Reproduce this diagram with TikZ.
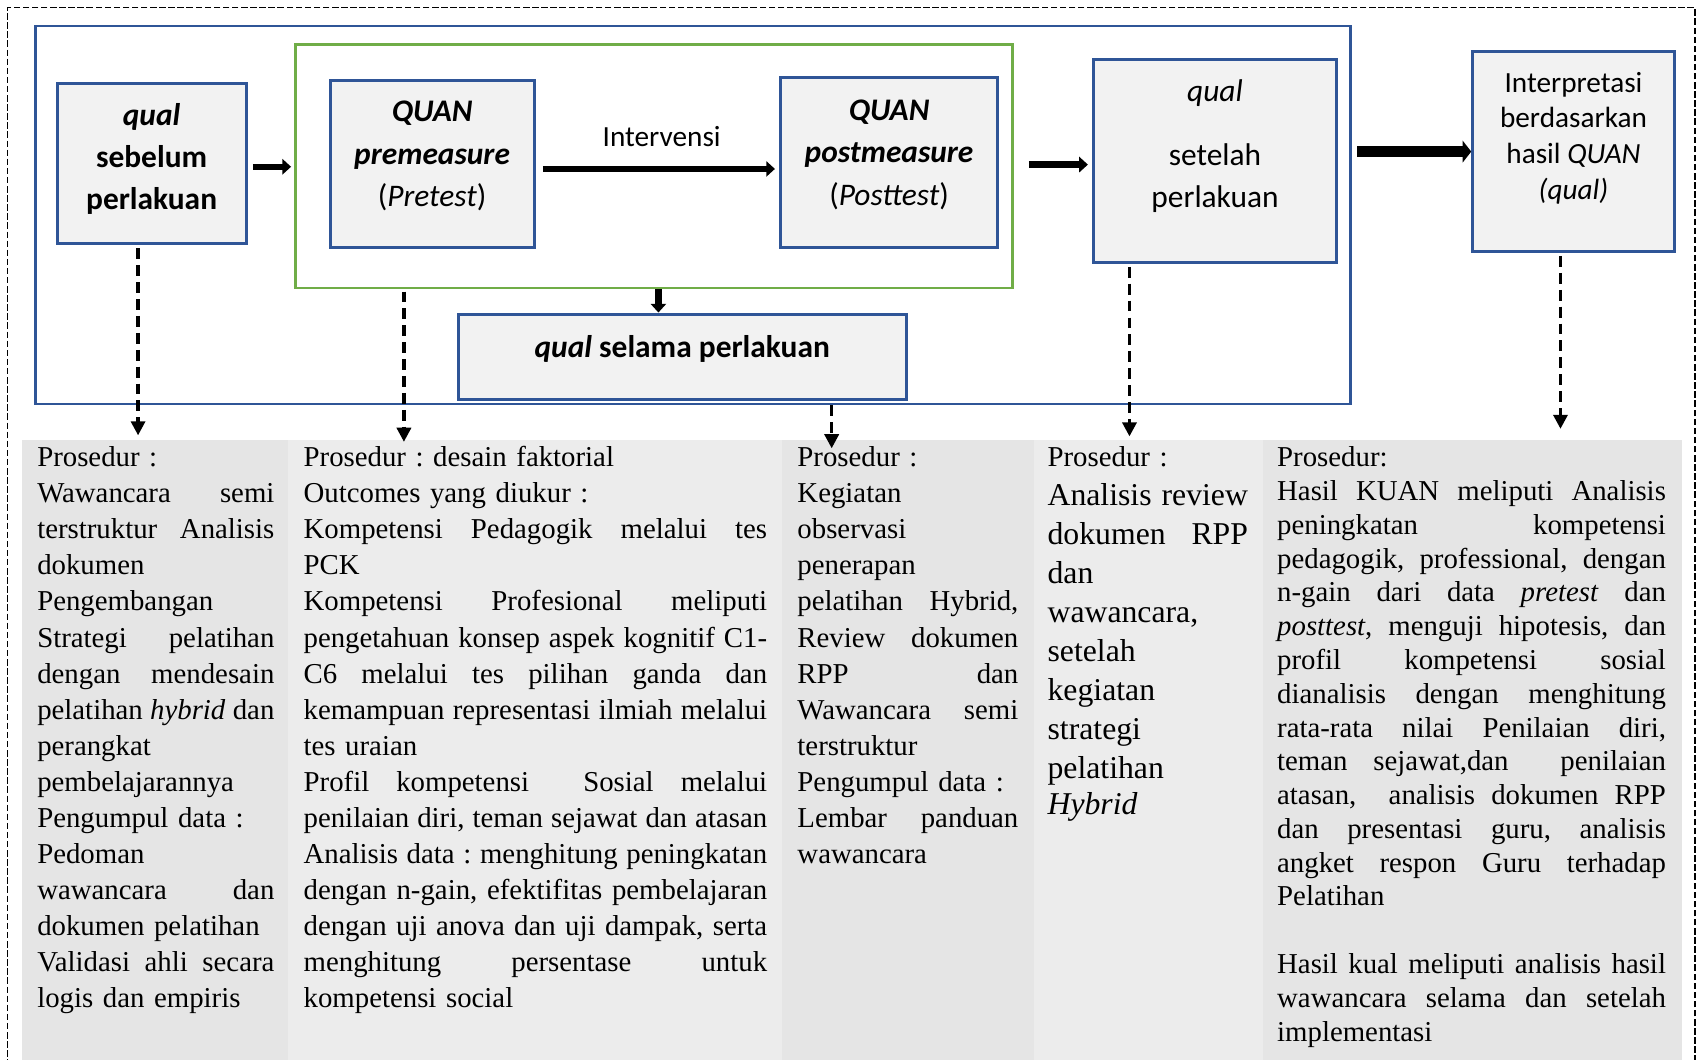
\documentclass[tikz,border=0pt]{standalone}
\usepackage{fontspec}
\setmainfont{Liberation Serif}
\newfontfamily\carl{Carlito}
\usetikzlibrary{arrows.meta,calc}
\definecolor{bblue}{HTML}{2F5597}
\definecolor{ggreen}{HTML}{70AD47}
\definecolor{boxfill}{HTML}{F2F2F2}
\definecolor{pdark}{HTML}{E5E5E5}
\definecolor{plight}{HTML}{ECECEC}
\newdimen\colw
\newcommand{\J}[1]{\leavevmode\hbox to\colw{\spaceskip=0.25em plus 1fil minus 0.08em\relax #1}}
\frenchspacing
\tikzset{
  bx/.style 2 args={draw=bblue, line width=1.4pt, fill=boxfill, inner sep=0pt,
    minimum width=#1*0.5pt, minimum height=#2*0.5pt},
  panel/.style 2 args={fill=#1, draw=none, inner sep=0pt, anchor=north west,
    minimum width=#2*0.5pt, minimum height=580*0.5pt},
  toptxt/.style={font=\carl\fontsize{14.5}{19.5}\selectfont, align=center, inner sep=0pt},
  coltxt/.style={font=\fontsize{13.3}{16.65}\selectfont\frenchspacing, align=left, anchor=base west,
    inner sep=0pt, text width=#1*0.5pt,
    execute at begin node={\colw=#1pt \divide\colw by 2 }},
  sarr/.style={line width=3pt, -{Triangle[length=4pt,width=7pt]}},
  tarr/.style={line width=5pt, -{Triangle[length=4pt,width=10pt]}},
  darr/.style={line width=1.5pt, dash pattern=on 5pt off 2.8pt,
    -{Triangle[length=6.5pt,width=6.5pt]}}
}
\begin{document}
\begin{tikzpicture}[x=0.5pt,y=-0.5pt]
\useasboundingbox (0,0) rectangle (1568,978);
% bottom panels
\node[panel={pdark}{246}] (p1) at (20,406) {};
\node[panel={plight}{456}] (p2) at (266,406) {};
\node[panel={pdark}{232}] (p3) at (722,406) {};
\node[panel={plight}{212}] (p4) at (954,406) {};
\node[panel={pdark}{387}] (p5) at (1166,406) {};
% outer frame
\node[draw, line width=0.8pt, dash pattern=on 3pt off 1.2pt, inner sep=0pt,
  minimum width=1558*0.5pt, minimum height=978*0.5pt] (frame) at (786,496) {};
% containers
\node[draw=bblue, line width=1.3pt, inner sep=0pt,
  minimum width=1214*0.5pt, minimum height=349*0.5pt] (big) at (640,198.5) {};
\node[draw=ggreen, line width=1.2pt, inner sep=0pt,
  minimum width=662*0.5pt, minimum height=225*0.5pt] (green) at (604,153.5) {};
% boxes
\node[bx={175}{148}] (seb) at (140.5,151) {};
\node[bx={189}{155}] (pre) at (399.5,151.5) {};
\node[bx={200}{157}] (post) at (821,150.5) {};
\node[bx={224}{187}] (set) at (1122,148.5) {};
\node[bx={186}{184}] (interp) at (1453,140) {};
\node[bx={414}{79}] (sel) at (630,329.5) {};
% box texts
\node[toptxt] (tseb) at (140,147) {\textbf{\textit{qual}}\\\textbf{sebelum}\\\textbf{perlakuan}};
\node[toptxt] (tpre) at (399,144) {\textbf{\textit{QUAN}}\\\textbf{\textit{premeasure}}\\(\textit{Pretest})};
\node[toptxt] (tpost) at (821,143) {\textbf{\textit{QUAN}}\\\textbf{\textit{postmeasure}}\\(\textit{Posttest})};
\node[toptxt] (tset) at (1122,135) {\textit{qual}\\[10pt]setelah\\perlakuan};
\node[toptxt, font=\carl\fontsize{13.5}{16.5}\selectfont] (tint) at (1453,127.5)
  {Interpretasi\\berdasarkan\\hasil \textit{QUAN}\\\textit{(qual)}};
\node[toptxt] (tsel) at (630,322) {\textbf{\textit{qual} selama perlakuan}};
\node[toptxt, font=\carl\fontsize{13.5}{16}\selectfont] (tiv) at (611,126) {Intervensi};
% solid arrows
\draw[sarr, shorten <=2pt, shorten >=1.5pt] ([yshift=-1.5pt]seb.east) -- ([yshift=-1.5pt]seb.east -| green.west);
\draw[sarr, shorten <=3pt, shorten >=2pt] ([yshift=-2.25pt]pre.east) -- ([yshift=-2.25pt]pre.east -| post.west);
\draw[sarr, shorten <=7pt, shorten >=2pt] ([yshift=0.75pt]green.east) -- ([yshift=0.75pt]green.east -| set.west);
\draw[tarr, shorten <=2.5pt] (interp.west -| big.east) -- (interp.west);
\draw[sarr] ([xshift=-11pt]sel.north |- green.south) -- ([xshift=-11pt]sel.north);
% dashed arrows
\draw[darr, shorten <=1.5pt, shorten >=2pt] ([xshift=-6.5pt]seb.south) -- ([xshift=-6.5pt]seb.south |- p1.north);
\draw[darr, shorten <=1pt, shorten >=-1pt] ([xshift=-13.25pt]pre.south |- green.south) -- ([xshift=-13.25pt]pre.south |- p2.north);
\draw[darr, shorten >=-4pt] ([xshift=69pt]sel.south |- big.south) -- ([xshift=69pt]sel.south |- p3.north);
\draw[darr, shorten <=1.5pt, shorten >=1.5pt] ([xshift=-39.5pt]set.south) -- ([xshift=-39.5pt]set.south |- p4.north);
\draw[darr, shorten <=1.5pt, shorten >=5pt] ([xshift=-6pt]interp.south) -- ([xshift=-6pt]interp.south |- p5.north);
% column texts
\node[coltxt=219] (c1) at (34,431) {Prosedur :\\
\J{Wawancara semi}\\
\J{terstruktur Analisis}\\
dokumen\\
Pengembangan\\
\J{Strategi pelatihan}\\
\J{dengan mendesain}\\
\J{pelatihan \textit{hybrid} dan}\\
perangkat\\
pembelajarannya\\
Pengumpul data :\\
Pedoman\\
\J{wawancara dan}\\
dokumen pelatihan\\
\J{Validasi ahli secara}\\
logis dan empiris};
\node[coltxt=428] (c2) at (280,431) {Prosedur : desain faktorial\\
Outcomes yang diukur :\\
\J{Kompetensi Pedagogik melalui tes}\\
PCK\\
\J{Kompetensi Profesional meliputi}\\
\J{pengetahuan konsep aspek kognitif C1-}\\
\J{C6 melalui tes pilihan ganda dan}\\
\J{kemampuan representasi ilmiah melalui}\\
tes uraian\\
\J{Profil kompetensi\ \ Sosial melalui}\\
\J{penilaian diri, teman sejawat dan atasan}\\
\J{Analisis data : menghitung peningkatan}\\
\J{dengan n-gain, efektifitas pembelajaran}\\
\J{dengan uji anova dan uji dampak, serta}\\
\J{menghitung persentase untuk}\\
kompetensi social};
\node[coltxt=204] (c3) at (736,431) {Prosedur :\\
Kegiatan\\
observasi\\
penerapan\\
\J{pelatihan Hybrid,}\\
\J{Review dokumen}\\
\J{RPP dan}\\
\J{Wawancara semi}\\
terstruktur\\
Pengumpul data :\\
\J{Lembar panduan}\\
wawancara};
\node[coltxt=185] (c4) at (967,431) {Prosedur :\\
\fontsize{14.65}{18}\selectfont\J{Analisis review}\\
\J{dokumen RPP}\\
dan\\
wawancara,\\
setelah\\
kegiatan\\
strategi\\
pelatihan\\
\textit{Hybrid}};
\node[coltxt=359, font=\fontsize{13.3}{15.6}\selectfont\frenchspacing] (c5) at (1179,431) {Prosedur:\\
\J{Hasil KUAN meliputi Analisis}\\
\J{peningkatan kompetensi}\\
\J{pedagogik, professional, dengan}\\
\J{n-gain dari data \textit{pretest} dan}\\
\J{\textit{posttest}, menguji hipotesis, dan}\\
\J{profil kompetensi sosial}\\
\J{dianalisis dengan menghitung}\\
\J{rata-rata nilai Penilaian diri,}\\
\J{teman sejawat,dan\ \ penilaian}\\
\J{atasan,\ \ analisis dokumen RPP}\\
\J{dan presentasi guru, analisis}\\
\J{angket respon Guru terhadap}\\
Pelatihan\\[15.6pt]
\J{Hasil kual meliputi analisis hasil}\\
\J{wawancara selama dan setelah}\\
implementasi};
\end{tikzpicture}
\end{document}
